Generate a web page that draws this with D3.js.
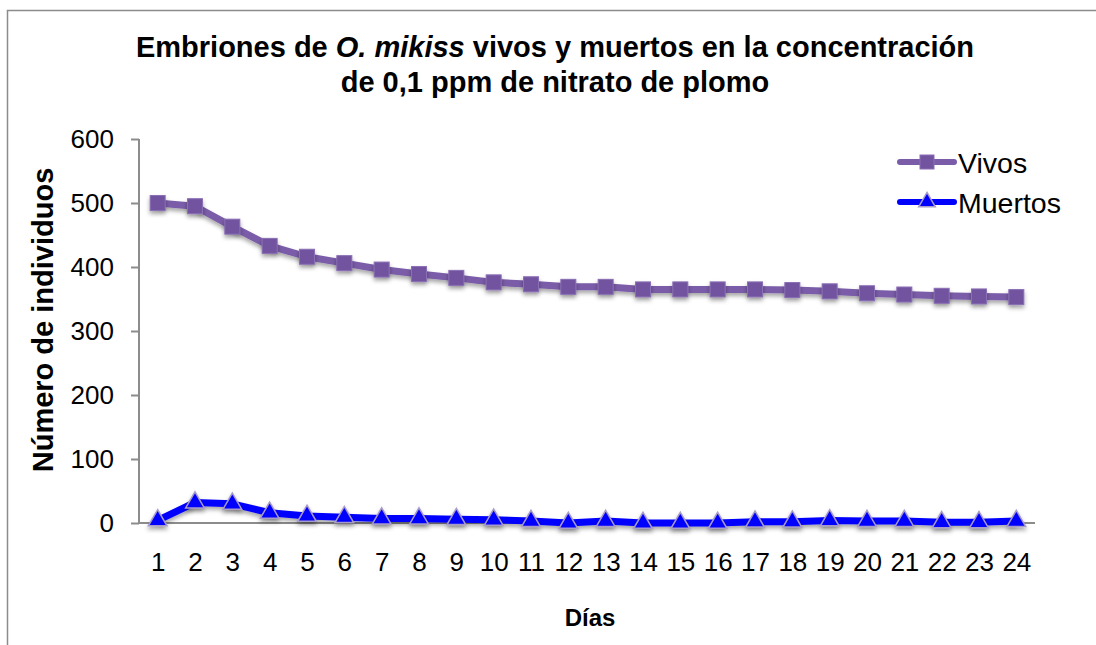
<!DOCTYPE html>
<html><head><meta charset="utf-8">
<script src="https://cdn.jsdelivr.net/npm/d3@7"></script>
<style>
html,body{margin:0;padding:0;background:#fff;}
svg{display:block;font-family:"Liberation Sans",Arial,sans-serif;}
</style></head>
<body><svg id="c" width="1096" height="645"></svg>
<script>
const days = d3.range(1,25).map(String);
const vivos = [500,495,463,433,416,406,396,389,383,376,373,369,369,365,365,365,365,364,362,359,357,355,354,353];
const muertos = [4,32,30,16,11,9,7,7,6,5,3,0,3,0,0,0,2,2,4,3,3,1,1,3];
const yTicks = [0,100,200,300,400,500,600];
const seriesNames = ["Vivos","Muertos"];

const svg = d3.select("#c");
const defs = svg.append("defs");
const f = defs.append("filter").attr("id","sh").attr("x","-50%").attr("y","-50%").attr("width","200%").attr("height","200%");
f.append("feDropShadow").attr("dx",0).attr("dy",3).attr("stdDeviation",2).attr("flood-color","#000").attr("flood-opacity",0.35);

// frame
svg.append("rect").attr("x",7.5).attr("y",10.5).attr("width",1200).attr("height",800)
  .attr("fill","none").attr("stroke","#8c8c8c").attr("stroke-width",1.5);

const x = d3.scalePoint().domain(days).range([139,1035]).padding(0.5);
const y = d3.scaleLinear().domain([0,600]).range([523,139]);

// y axis
const ya = svg.append("g").attr("transform","translate(139,0)")
  .call(d3.axisLeft(y).tickValues(yTicks).tickSize(8).tickPadding(17));
ya.select(".domain").attr("stroke","#8c8c8c").attr("stroke-width",2).attr("d","M0,139V523");
ya.selectAll(".tick line").attr("stroke","#8c8c8c").attr("stroke-width",2);
ya.selectAll(".tick text").attr("font-size",26).attr("fill","#000").attr("font-family","Liberation Sans, Arial, sans-serif");

// x axis
const xa = svg.append("g").attr("transform","translate(0,523)")
  .call(d3.axisBottom(x).tickSize(0).tickPadding(30));
xa.select(".domain").attr("stroke","#8c8c8c").attr("stroke-width",2).attr("d","M139,0H1035");
xa.selectAll(".tick text").attr("font-size",26).attr("fill","#000").attr("font-family","Liberation Sans, Arial, sans-serif");

const line = d3.line().x((d,i)=>x(days[i])).y(d=>y(d));
const cV = "#7a5ca8", cM = "#0000ff";

svg.append("path").datum(vivos).attr("d",line).attr("fill","none").attr("stroke",cV).attr("stroke-width",7).attr("stroke-linejoin","round").attr("filter","url(#sh)");
svg.append("g").selectAll("rect").data(vivos).join("rect")
  .attr("x",(d,i)=>x(days[i])-7.5).attr("y",d=>y(d)-7.5).attr("width",15).attr("height",15)
  .attr("fill","#7253a0").attr("stroke","#8a6fb5").attr("stroke-width",1).attr("filter","url(#sh)");

svg.append("path").datum(muertos).attr("d",line).attr("fill","none").attr("stroke",cM).attr("stroke-width",7).attr("stroke-linejoin","round").attr("filter","url(#sh)");
const tri = d3.symbol().type(d3.symbolTriangle).size(150);
svg.append("g").selectAll("path").data(muertos).join("path")
  .attr("d",tri).attr("transform",(d,i)=>`translate(${x(days[i])},${y(d)})`)
  .attr("fill",cM).attr("stroke","#a79bc9").attr("stroke-width",1.5).attr("filter","url(#sh)");

// legend
const lg = svg.append("g");
const ly = [162,202];
lg.append("line").attr("x1",900).attr("x2",954).attr("y1",ly[0]).attr("y2",ly[0]).attr("stroke",cV).attr("stroke-width",6).attr("stroke-linecap","round");
lg.append("rect").attr("x",920).attr("y",ly[0]-7).attr("width",14).attr("height",14).attr("fill","#7253a0").attr("stroke","#8a6fb5");
lg.append("line").attr("x1",900).attr("x2",954).attr("y1",ly[1]).attr("y2",ly[1]).attr("stroke",cM).attr("stroke-width",6).attr("stroke-linecap","round");
lg.append("path").attr("d",d3.symbol().type(d3.symbolTriangle).size(120)).attr("transform",`translate(927,${ly[1]})`).attr("fill",cM).attr("stroke","#a79bc9").attr("stroke-width",1.5);
lg.selectAll("text").data(seriesNames).join("text").attr("x",958).attr("y",(d,i)=>ly[i]+10.5)
  .attr("font-size",28.5).attr("fill","#000").text(d=>d);

// title
const t = svg.append("text").attr("x",555).attr("text-anchor","middle").attr("font-size",29).attr("font-weight","bold").attr("fill","#000");
const l1 = t.append("tspan").attr("x",555).attr("y",57);
l1.append("tspan").text("Embriones de ");
l1.append("tspan").attr("font-style","italic").text("O. mikiss");
l1.append("tspan").text(" vivos y muertos en la concentración");
t.append("tspan").attr("x",555).attr("y",92).text("de 0,1 ppm de nitrato de plomo");

// axis titles
svg.append("text").attr("transform","translate(53,320) rotate(-90)").attr("text-anchor","middle")
  .attr("font-size",29).attr("font-weight","bold").attr("fill","#000").text("Número de individuos");
svg.append("text").attr("x",590).attr("y",626).attr("text-anchor","middle")
  .attr("font-size",24).attr("font-weight","bold").attr("fill","#000").text("Días");
</script></body></html>
